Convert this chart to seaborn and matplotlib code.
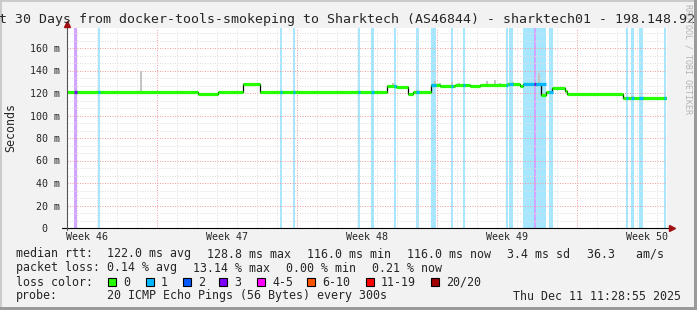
import matplotlib
matplotlib.use("Agg")
import matplotlib.pyplot as plt
import seaborn as sns
import numpy as np
import pandas as pd
from matplotlib.patches import Rectangle

# ---------------- data ----------------
week_labels = ["Week 46", "Week 47", "Week 48", "Week 49", "Week 50"]
week_label_days = [1.0, 8.0, 15.0, 22.0, 29.0]
week_start_days = [4.5, 11.5, 18.5, 25.5]

# median rtt (ms) as steps: start day -> value
median_start = [0.0, 6.55, 7.55, 8.8, 9.65, 16.0, 16.45, 17.05, 17.3, 18.2, 18.65,
                19.4, 20.15, 20.65, 21.25, 22.0, 22.65, 22.8, 23.7, 23.95, 24.25,
                24.9, 25.0, 27.8]
median_ms = [121.0, 119.0, 121.0, 128.0, 121.0, 126.5, 125.5, 119.5, 120.5, 127.0, 126.5,
             127.0, 126.5, 127.5, 127.0, 128.0, 126.5, 128.0, 118.0, 120.5, 124.5,
             122.0, 119.0, 116.0]
end_day = 30.0

# packet loss periods (day ranges) and number of lost pings
loss_start = [0.35, 1.55, 10.65, 11.3, 14.55, 15.2, 16.35, 17.45, 18.2, 19.2, 19.8,
              21.95, 22.1, 22.8, 23.35, 23.45, 24.1, 27.95, 28.2, 28.6, 29.85]
loss_end = [0.475, 1.625, 10.75, 11.375, 14.625, 15.35, 16.45, 17.575, 18.45, 19.3, 19.875,
            22.05, 22.3, 23.35, 23.45, 23.95, 24.3, 28.05, 28.35, 28.8, 29.95]
loss_level = [3, 1, 1, 1, 1, 1, 1, 1, 1, 1, 1,
              1, 1, 1, 3, 1, 1, 1, 1, 1, 1]

# smoke (rtt spread) spikes
smoke_day = [3.7, 16.3, 17.5, 18.4, 18.65, 19.25, 19.6, 21.0, 21.4, 21.65, 22.3, 23.6, 28.25]
smoke_low = [121.0, 126.5, 120.5, 127.0, 126.5, 127.0, 127.0, 127.5, 127.0, 127.0, 128.0, 128.0, 116.0]
smoke_high = [140.0, 129.0, 123.0, 130.7, 129.0, 130.0, 129.0, 131.0, 131.6, 129.0, 129.5, 137.5, 117.5]

y_ticks = [0, 20, 40, 60, 80, 100, 120, 140, 160]
y_tick_labels = ["0  ", "20 m", "40 m", "60 m", "80 m", "100 m", "120 m", "140 m", "160 m"]

loss_keys = [0, 1, 2, 3, 5, 10, 19, 20]
loss_names = ["0", "1", "2", "3", "4-5", "6-10", "11-19", "20/20"]
loss_hex = ["#26ff00", "#00b8ff", "#0059ff", "#7e00ff", "#ff00ff", "#ff5500", "#ff0000", "#a10000"]

title = "t 30 Days from docker-tools-smokeping to Sharktech (AS46844) - sharktech01 - 198.148.92."
row1 = [(16, "median rtt:  122.0 ms avg"), (207, "128.8 ms max"), (307, "116.0 ms min"),
        (407, "116.0 ms now"), (507, "3.4 ms sd"), (587, "36.3   am/s")]
row2 = [(16, "packet loss: 0.14 % avg"), (193, "13.14 % max"), (286, "0.00 % min"),
        (372, "0.21 % now")]
probe_text = "20 ICMP Echo Pings (56 Bytes) every 300s"
date_text = "Thu Dec 11 11:28:55 2025"

# ---------------- figure ----------------
W, H, DPI = 697, 310, 100
sns.set_style("white")
plt.rcParams["font.family"] = ["DejaVu Sans Mono", "DejaVu Sans"]
MONO = "DejaVu Sans Mono"

fig = plt.figure(figsize=(W / DPI, H / DPI), dpi=DPI, facecolor="#f2f2f2")


def fx(x):
    return x / W


def fy(y):
    return 1 - y / H


# 3D-style frame
fig.add_artist(Rectangle((0, fy(2)), 1, 2 / H, transform=fig.transFigure, color="#cbcbcb", lw=0))
fig.add_artist(Rectangle((0, 0), 2 / W, 1, transform=fig.transFigure, color="#cbcbcb", lw=0))
fig.add_artist(Rectangle((0, 0), 1, 3 / H, transform=fig.transFigure, color="#9a9a9a", lw=0))
fig.add_artist(Rectangle((fx(W - 3), 0), 3 / W, 1, transform=fig.transFigure, color="#9a9a9a", lw=0))

PX0, PX1, PY0, PY1 = 67, 667, 28, 228
ax = fig.add_axes([fx(PX0), fy(PY1), (PX1 - PX0) / W, (PY1 - PY0) / H])
ax.set_facecolor("white")
YMAX = (PY1 - PY0) / 22.5 * 20
ax.set_xlim(0, end_day)
ax.set_ylim(0, YMAX)
for s in ax.spines.values():
    s.set_visible(False)

# loss background shading
color_of = dict(zip(loss_keys, loss_hex))
for s, e, lv in zip(loss_start, loss_end, loss_level):
    ax.axvspan(s, e, color=color_of[lv], alpha=0.35, lw=0, zorder=0.2)

# grid
dot = (0, (1, 1.5))
for d in np.arange(0.5, end_day, 1.0):
    major = any(abs(d - w) < 1e-6 for w in week_start_days)
    ax.axvline(d, color="#f0a0a0" if major else "#dedede", lw=0.72, ls=dot, zorder=0.5)
for k in range(1, 27):
    v = k * 20 / 3
    if v > YMAX:
        break
    major = (k % 3 == 0)
    ax.axhline(v, color="#f0a0a0" if major else "#dedede", lw=0.72, ls=dot, zorder=0.5)

# smoke
ax.vlines(smoke_day, smoke_low, smoke_high, colors="#c4c4c4", lw=1.5, zorder=2)

# median: black step outline + coloured line
xs = median_start + [end_day]
ys = median_ms + [median_ms[-1]]
df = pd.DataFrame({"day": xs, "rtt": ys})
sns.lineplot(data=df, x="day", y="rtt", drawstyle="steps-post", color="black", lw=0.9,
             estimator=None, ax=ax, zorder=3)
seg_end = median_start[1:] + [end_day]
ax.hlines(median_ms, median_start, seg_end, colors=loss_hex[0], lw=2.3, zorder=4)
ms_arr = np.array(median_start)
for s, e, lv in zip(loss_start, loss_end, loss_level):
    i = np.searchsorted(ms_arr, s, side="right") - 1
    ax.hlines(median_ms[i], s, e, colors=color_of[lv], lw=2.3, zorder=5)

# axes lines and arrows
ax.plot([-0.25, 30.15], [0, 0], color="black", lw=0.8, clip_on=False, zorder=6)
ax.plot([0, 0], [-2.0, 180.5], color="#555555", lw=0.8, clip_on=False, zorder=6)
ax.plot([30.25], [0], marker=">", ms=4, color="#a01010", clip_on=False, zorder=7)
ax.plot([0], [181.5], marker="^", ms=4, color="#a01010", clip_on=False, zorder=7)

# ticks
ax.set_xticks(week_label_days)
ax.set_xticklabels(week_labels, fontsize=7.2, family=MONO)
ax.set_yticks(y_ticks)
ax.set_yticklabels(y_tick_labels, fontsize=7.2, family=MONO)
ax.tick_params(axis="both", length=0)
ax.tick_params(axis="x", pad=3)
ax.tick_params(axis="y", pad=5)
ax.set_xlabel("")
ax.set_ylabel("")

# texts
fig.text(fx(11), fy(128), "Seconds", rotation=90, ha="center", va="center", fontsize=8.4, family=MONO)
fig.text(fx(-1), fy(19), title, ha="left", va="center", fontsize=9.55, family=MONO)
fig.text(fx(688), fy(4), "RRDTOOL / TOBI OETIKER", rotation=270, ha="center", va="top",
         fontsize=6.0, family=MONO, color="#b4b4b4")

LF = 8.37
for x, s in row1:
    fig.text(fx(x), fy(254), s, ha="left", va="center", fontsize=LF, family=MONO)
for x, s in row2:
    fig.text(fx(x), fy(268), s, ha="left", va="center", fontsize=LF, family=MONO)

fig.text(fx(16), fy(282), "loss color:", ha="left", va="center", fontsize=LF, family=MONO)
box_x = [108, 146, 183, 219, 257, 307, 366, 431]
for bx, name, c in zip(box_x, loss_names, loss_hex):
    fig.add_artist(Rectangle((fx(bx), fy(286)), 8 / W, 8 / H, transform=fig.transFigure,
                             facecolor=c, edgecolor="black", lw=0.8))
    fig.text(fx(bx + 15), fy(282), name, ha="left", va="center", fontsize=LF, family=MONO)

fig.text(fx(16), fy(296), "probe:", ha="left", va="center", fontsize=LF, family=MONO)
fig.text(fx(107), fy(296), probe_text, ha="left", va="center", fontsize=LF, family=MONO)
fig.text(fx(681), fy(296), date_text, ha="right", va="center", fontsize=LF, family=MONO)

fig.savefig("out.png", dpi=DPI, facecolor=fig.get_facecolor())
